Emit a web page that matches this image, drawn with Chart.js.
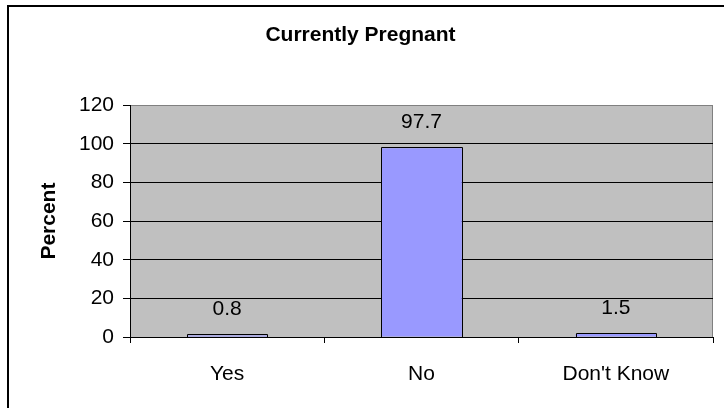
<!DOCTYPE html>
<html>
<head>
<meta charset="utf-8">
<script src="https://cdn.jsdelivr.net/npm/chart.js@4/dist/chart.umd.min.js"></script>
<style>
  html, body { margin: 0; padding: 0; background: #fff; overflow: hidden; }
  #wrap { position: relative; width: 724px; height: 408px; }
</style>
</head>
<body>
<div id="wrap"><canvas id="c"></canvas></div>
<script>
const categories = ["Yes", "No", "Don't Know"];
const percentValues = [0.8, 97.7, 1.5];
const valueLabels = ["0.8", "97.7", "1.5"];
const yTicks = [0, 20, 40, 60, 80, 100, 120];

const FONT = "'Liberation Sans', Arial, sans-serif";
Chart.defaults.font.family = FONT;
Chart.defaults.color = '#000';

const decor = {
  id: 'decor',
  beforeDraw(chart) {
    const { ctx, chartArea: a } = chart;
    ctx.save();
    ctx.fillStyle = '#C0C0C0';
    ctx.fillRect(a.left, a.top, a.right - a.left, a.bottom - a.top);
    ctx.strokeStyle = '#808080';
    ctx.lineWidth = 1;
    ctx.strokeRect(Math.round(a.left) + 0.5, Math.round(a.top) + 0.5,
                   Math.round(a.right - a.left) - 1, Math.round(a.bottom - a.top));
    ctx.restore();
  },
  afterDatasetsDraw(chart) {
    const { ctx } = chart;
    const meta = chart.getDatasetMeta(0);
    ctx.save();
    ctx.strokeStyle = '#000';
    ctx.lineWidth = 1;
    meta.data.forEach((bar) => {
      const w = bar.width;
      const x0 = Math.round(bar.x - w / 2) + 0.5;
      const x1 = Math.round(bar.x + w / 2) + 0.5;
      const yt = Math.round(bar.y) - 0.5;
      const yb = Math.round(bar.base) + 0.5;
      ctx.beginPath();
      ctx.rect(x0, yt, x1 - x0, yb - yt);
      ctx.stroke();
    });
    ctx.restore();
  },
  afterDraw(chart) {
    const { ctx } = chart;
    ctx.save();
    ctx.fillStyle = '#000';
    ctx.fillRect(7, 5, 724, 2);
    ctx.fillRect(7, 5, 2, 408);
    ctx.font = "21px " + FONT;
    ctx.textAlign = 'center';
    ctx.textBaseline = 'middle';
    const meta = chart.getDatasetMeta(0);
    meta.data.forEach((bar, i) => {
      ctx.fillText(valueLabels[i], bar.x, bar.y - 26);
    });
    ctx.restore();
  }
};

new Chart(document.getElementById('c'), {
  type: 'bar',
  data: {
    labels: categories,
    datasets: [{
      data: percentValues,
      backgroundColor: '#9999FF',
      borderWidth: 0,
      barPercentage: 0.415,
      categoryPercentage: 1.0
    }]
  },
  options: {
    responsive: true,
    maintainAspectRatio: false,
    animation: false,
    layout: { padding: { left: 8, right: 11, top: 0, bottom: 0 } },
    plugins: {
      legend: { display: false },
      tooltip: { enabled: false },
      title: {
        display: true,
        text: 'Currently Pregnant',
        font: { size: 21, weight: 'bold' },
        color: '#000',
        padding: { top: 23, bottom: 57 }
      }
    },
    scales: {
      x: {
        offset: true,
        grid: {
          offset: true,
          display: true,
          drawOnChartArea: false,
          drawTicks: true,
          tickLength: 6,
          color: '#000'
        },
        border: { display: true, color: '#000', width: 1 },
        ticks: { font: { size: 21 }, color: '#000', padding: 19 },
        afterFit(scale) { scale.height = 71; }
      },
      y: {
        min: 0,
        max: 120,
        afterBuildTicks(scale) { scale.ticks = yTicks.map(v => ({ value: v })); },
        grid: {
          color: (ctx) => (ctx.tick && ctx.tick.value === 120) ? '#808080' : '#000',
          lineWidth: 1,
          drawTicks: true,
          tickLength: 7,
          tickColor: '#000'
        },
        border: { display: true, color: '#000', width: 1 },
        ticks: { font: { size: 21 }, color: '#000', padding: 9 },
        title: {
          display: true,
          text: 'Percent',
          font: { size: 21, weight: 'bold' },
          color: '#000',
          padding: { top: 29, bottom: 0 }
        },
        afterFit(scale) { scale.width = 122; }
      }
    }
  },
  plugins: [decor]
});
</script>
</body>
</html>
